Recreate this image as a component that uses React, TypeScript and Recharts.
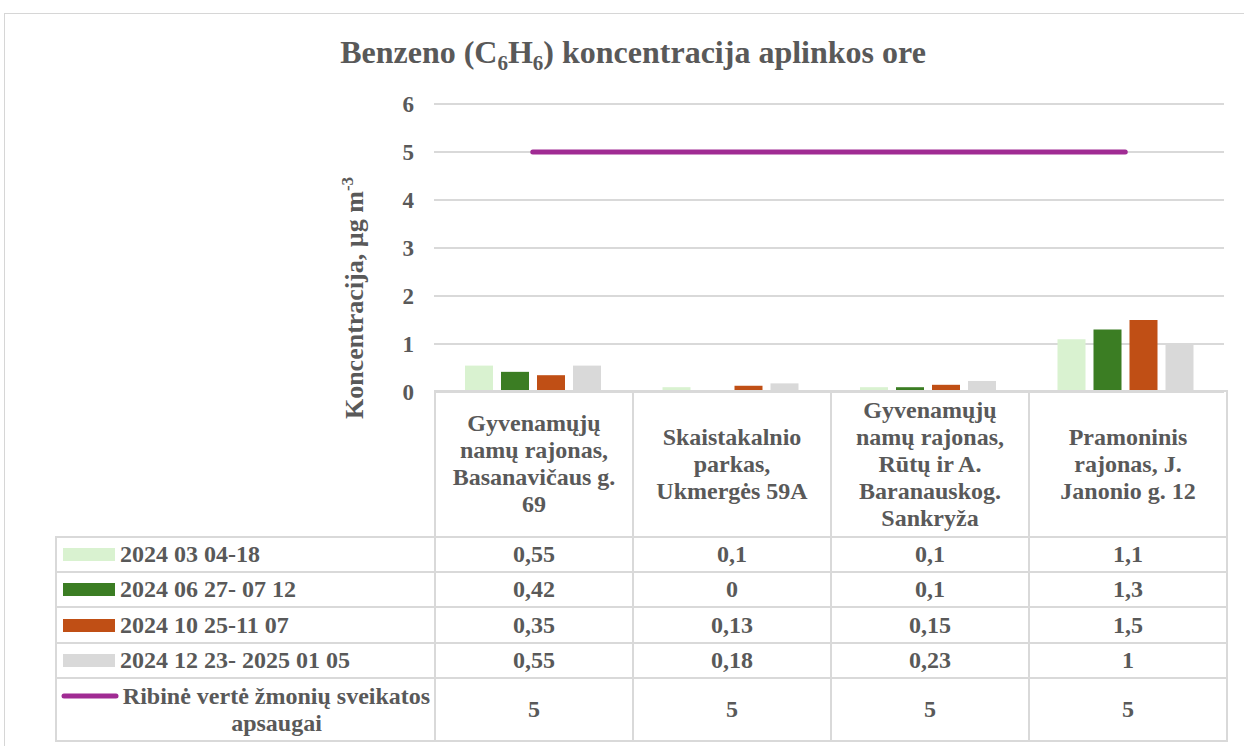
import React from 'react';
import { ComposedChart, Bar, Line, XAxis, YAxis, CartesianGrid } from 'recharts';

const categories = [
  'Gyvenamųjų namų rajonas, Basanavičaus g. 69',
  'Skaistakalnio parkas, Ukmergės 59A',
  'Gyvenamųjų namų rajonas, Rūtų ir A. Baranauskog. Sankryža',
  'Pramoninis rajonas, J. Janonio g. 12',
];

const periodNames = ['2024 03 04-18', '2024 06 27- 07 12', '2024 10 25-11 07', '2024 12 23- 2025 01 05'];
const period1 = [0.55, 0.1, 0.1, 1.1];
const period2 = [0.42, 0, 0.1, 1.3];
const period3 = [0.35, 0.13, 0.15, 1.5];
const period4 = [0.55, 0.18, 0.23, 1];
const limitName = 'Ribinė vertė žmonių sveikatos apsaugai';
const limitValues = [5, 5, 5, 5];
const yTicks = [0, 1, 2, 3, 4, 5, 6];

const barColors = ['#d9f2d0', '#3b7d23', '#c04f15', '#d9d9d9'];
const lineColor = '#a02b93';
const textColor = '#595959';
const gridColor = '#d9d9d9';
const font = '"Liberation Serif", "Times New Roman", serif';

const periods = [period1, period2, period3, period4];

const data = categories.map((name, i) => ({
  name,
  p0: period1[i],
  p1: period2[i],
  p2: period3[i],
  p3: period4[i],
  limit: limitValues[i],
}));

const fmt = (v: number) => String(v).replace('.', ',');

const AxisTitle = () => (
  <text
    transform="rotate(-90, 363, 298)"
    x={363}
    y={298}
    textAnchor="middle"
    fill={textColor}
    fontFamily={font}
    fontWeight="bold"
    fontSize={26}
  >
    Koncentracija, µg m<tspan dy={-10} fontSize={17}>-3</tspan>
  </text>
);

const cell: React.CSSProperties = {
  border: `2px solid ${gridColor}`,
  textAlign: 'center',
  verticalAlign: 'middle',
  padding: '0 8px',
  fontFamily: font,
  fontWeight: 'bold',
  fontSize: 24,
  color: textColor,
  lineHeight: '27px',
};

const legendCell: React.CSSProperties = {
  ...cell,
  textAlign: 'left',
  padding: '0 2px 0 6px',
};

const rowHeights = [35, 35, 36, 35];

const App: React.FC = () => {
  return (
    <div
      style={{
        position: 'fixed',
        left: 0,
        top: 0,
        width: 1244,
        height: 746,
        overflow: 'hidden',
        background: '#fff',
        fontFamily: font,
      }}
    >
      <div
        style={{
          position: 'absolute',
          left: 4,
          top: 13,
          width: 1270,
          height: 780,
          border: '1px solid #d6d6d6',
        }}
      />
      <div
        style={{
          position: 'absolute',
          left: 0,
          top: 36,
          width: 1266,
          textAlign: 'center',
          fontSize: 32,
          lineHeight: '32px',
          fontWeight: 'bold',
          color: textColor,
        }}
      >
        Benzeno (C<sub style={{ fontSize: 21, verticalAlign: -7 }}>6</sub>H
        <sub style={{ fontSize: 21, verticalAlign: -7 }}>6</sub>) koncentracija aplinkos ore
      </div>
      <div style={{ position: 'absolute', left: 0, top: 0 }}>
        <ComposedChart
          width={1244}
          height={746}
          data={data}
          margin={{ top: 104, right: 20, bottom: 354, left: 334 }}
          barSize={28}
          barGap={8}
        >
          <CartesianGrid vertical={false} stroke={gridColor} strokeWidth={2} />
          <XAxis dataKey="name" height={0} tick={false} axisLine={false} tickLine={false} />
          <YAxis
            width={100}
            domain={[0, 6]}
            ticks={yTicks}
            axisLine={false}
            tickLine={false}
            tickSize={0}
            tickMargin={20}
            tick={{ fill: textColor, fontSize: 23, fontWeight: 'bold', fontFamily: font }}
            label={<AxisTitle />}
          />
          {periodNames.map((n, i) => (
            <Bar key={n} dataKey={`p${i}`} name={n} fill={barColors[i]} isAnimationActive={false} />
          ))}
          <Line
            dataKey="limit"
            name={limitName}
            stroke={lineColor}
            strokeWidth={5}
            strokeLinecap="round"
            dot={false}
            activeDot={false}
            isAnimationActive={false}
          />
        </ComposedChart>
      </div>
      <table
        style={{
          position: 'absolute',
          left: 55,
          top: 390,
          borderCollapse: 'collapse',
          tableLayout: 'fixed',
          width: 1171,
        }}
      >
        <colgroup>
          <col style={{ width: 379 }} />
          {categories.map((c) => (
            <col key={c} style={{ width: 198 }} />
          ))}
        </colgroup>
        <tbody>
          <tr style={{ height: 146 }}>
            <td style={{ border: 'none' }} />
            {categories.map((c) => (
              <td key={c} style={cell}>
                {c}
              </td>
            ))}
          </tr>
          {periods.map((vals, i) => (
            <tr key={periodNames[i]} style={{ height: rowHeights[i] }}>
              <td style={legendCell}>
                <div style={{ display: 'flex', alignItems: 'center' }}>
                  <span
                    style={{
                      display: 'inline-block',
                      width: 52,
                      height: 13,
                      marginRight: 5,
                      background: barColors[i],
                    }}
                  />
                  <span>{periodNames[i]}</span>
                </div>
              </td>
              {vals.map((v, j) => (
                <td key={j} style={cell}>
                  {fmt(v)}
                </td>
              ))}
            </tr>
          ))}
          <tr style={{ height: 63 }}>
            <td style={{ ...legendCell, padding: '0 0 0 4px' }}>
              <div style={{ display: 'flex', alignItems: 'flex-start' }}>
                <svg width={58} height={27} style={{ flex: 'none' }}>
                  <line x1={3} y1={13} x2={55} y2={13} stroke={lineColor} strokeWidth={5} strokeLinecap="round" />
                </svg>
                <div style={{ textAlign: 'center' }}>{limitName}</div>
              </div>
            </td>
            {limitValues.map((v, j) => (
              <td key={j} style={cell}>
                {fmt(v)}
              </td>
            ))}
          </tr>
        </tbody>
      </table>
    </div>
  );
};

export default App;
